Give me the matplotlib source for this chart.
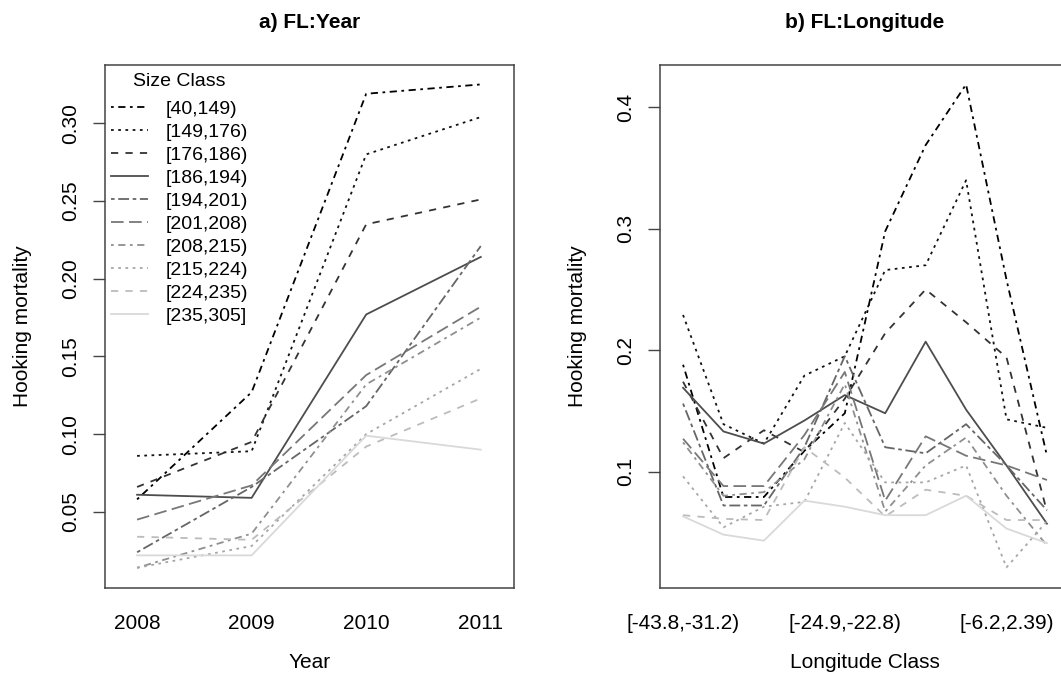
import numpy as np
import matplotlib
matplotlib.use("Agg")
import matplotlib.pyplot as plt

plt.rcParams['font.family'] = ['Liberation Sans', 'DejaVu Sans']

# data
years = [2008, 2009, 2010, 2011]
size_classes = ['[40,149)', '[149,176)', '[176,186)', '[186,194)', '[194,201)',
                '[201,208)', '[208,215)', '[215,224)', '[224,235)', '[235,305]']

year_vals = [
    [0.058, 0.127, 0.319, 0.325],
    [0.086, 0.089, 0.280, 0.304],
    [0.066, 0.095, 0.235, 0.251],
    [0.061, 0.059, 0.177, 0.214],
    [0.024, 0.066, 0.118, 0.221],
    [0.045, 0.067, 0.138, 0.182],
    [0.014, 0.036, 0.132, 0.175],
    [0.014, 0.028, 0.100, 0.142],
    [0.034, 0.032, 0.092, 0.123],
    [0.022, 0.022, 0.099, 0.090],
]

lon_index = list(range(10))
lon_tick_pos = [0, 4, 8]
lon_tick_labels = ['[-43.8,-31.2)', '[-24.9,-22.8)', '[-6.2,2.39)']

lon_vals = [
    [0.188, 0.079, 0.079, 0.117, 0.148, 0.298, 0.369, 0.419, 0.258, 0.113],
    [0.229, 0.139, 0.123, 0.179, 0.195, 0.266, 0.270, 0.340, 0.143, 0.136],
    [0.174, 0.111, 0.134, 0.116, 0.160, 0.214, 0.250, 0.223, 0.194, 0.067],
    [0.169, 0.133, 0.123, 0.142, 0.163, 0.148, 0.207, 0.151, 0.105, 0.057],
    [0.156, 0.072, 0.072, 0.120, 0.195, 0.120, 0.115, 0.139, 0.105, 0.068],
    [0.127, 0.088, 0.088, 0.130, 0.182, 0.076, 0.129, 0.113, 0.105, 0.093],
    [0.124, 0.080, 0.083, 0.110, 0.172, 0.067, 0.105, 0.128, 0.080, 0.039],
    [0.096, 0.054, 0.071, 0.075, 0.140, 0.091, 0.091, 0.105, 0.021, 0.059],
    [0.064, 0.061, 0.060, 0.120, 0.095, 0.063, 0.085, 0.080, 0.060, 0.060],
    [0.063, 0.048, 0.043, 0.076, 0.071, 0.064, 0.064, 0.080, 0.053, 0.041],
]

# styles (R-like lty cycle and grey ramp)
colors = ['#000000', '#111111', '#333333', '#4d4d4d', '#666666',
          '#777777', '#8f8f8f', '#a6a6a6', '#bcbcbc', '#d9d9d9']
dotdash = (1.5, 2.5, 4, 2.5)
dotted = (1.5, 2.5)
dashed = (4, 4)
solid = ()
twodash = (2, 2, 6, 2)
longdash = (7, 3)
dash_list = [dotdash, dotted, dashed, solid, twodash, longdash,
             dotdash, dotted, dashed, solid]
lw = 1.3

W, H = 1061, 682
fig = plt.figure(figsize=(W / 100, H / 100), dpi=100)

top, bottom = 65, 588
ax1 = fig.add_axes([105 / W, (H - bottom) / H, 409 / W, (bottom - top) / H])
ax2 = fig.add_axes([660 / W, (H - bottom) / H, 410 / W, (bottom - top) / H])


def draw(ax, x, vals):
    for i, v in enumerate(vals):
        line, = ax.plot(x, v, color=colors[i], lw=lw, label=size_classes[i])
        if dash_list[i]:
            line.set_dashes(dash_list[i])


draw(ax1, years, year_vals)
draw(ax2, lon_index, lon_vals)

ax1.set_xlim(2007.72, 2011.29)
ax1.set_ylim(0.001, 0.3375)
ax1.set_xticks(years)
ax1.set_xticklabels([str(y) for y in years])
ax1.set_yticks([0.05, 0.10, 0.15, 0.20, 0.25, 0.30])
ax1.set_yticklabels(['0.05', '0.10', '0.15', '0.20', '0.25', '0.30'])

ax2.set_xlim(-0.57, 9.57)
ax2.set_ylim(0.004, 0.435)
ax2.set_xticks(lon_tick_pos)
ax2.set_xticklabels(lon_tick_labels)
ax2.set_yticks([0.1, 0.2, 0.3, 0.4])
ax2.set_yticklabels(['0.1', '0.2', '0.3', '0.4'])

for ax, xl, title in [(ax1, 'Year', 'a) FL:Year'),
                      (ax2, 'Longitude Class', 'b) FL:Longitude')]:
    for s in ax.spines.values():
        s.set_color('#444444')
        s.set_linewidth(1.1)
    ax.tick_params(axis='x', length=0, pad=19, labelsize=15)
    ax.tick_params(axis='y', length=8.6, width=1.0, color='#444444',
                   pad=9, labelsize=15, labelrotation=90)
    for lab in ax.get_yticklabels():
        lab.set_va('center')
    ax.set_xlabel(xl, fontsize=15)
    ax.xaxis.set_label_coords(0.5, -75 / 523)
    ax.xaxis.label.set_va('center')
    ax.set_ylabel('Hooking mortality', fontsize=15)
    ax.yaxis.set_label_coords(-82 / 409, 0.5)
    ax.yaxis.label.set_va('center')
    ax.text(0.5, 1 + 43 / 523, title, transform=ax.transAxes, ha='center',
            va='center', fontsize=15, fontweight='bold')

# legend: title placed on its own, entries below with R-like spacing
ax1.text(74 / 409, 1 - 16 / 523, 'Size Class', transform=ax1.transAxes,
         ha='center', va='center', fontsize=14)
leg = ax1.legend(loc='upper left', bbox_to_anchor=(0.015, 1 - 35 / 523),
                 frameon=False, fontsize=14,
                 borderaxespad=0, borderpad=0, handlelength=1.9,
                 handletextpad=0.9, labelspacing=0.28)

fig.savefig('out.png', dpi=100)
